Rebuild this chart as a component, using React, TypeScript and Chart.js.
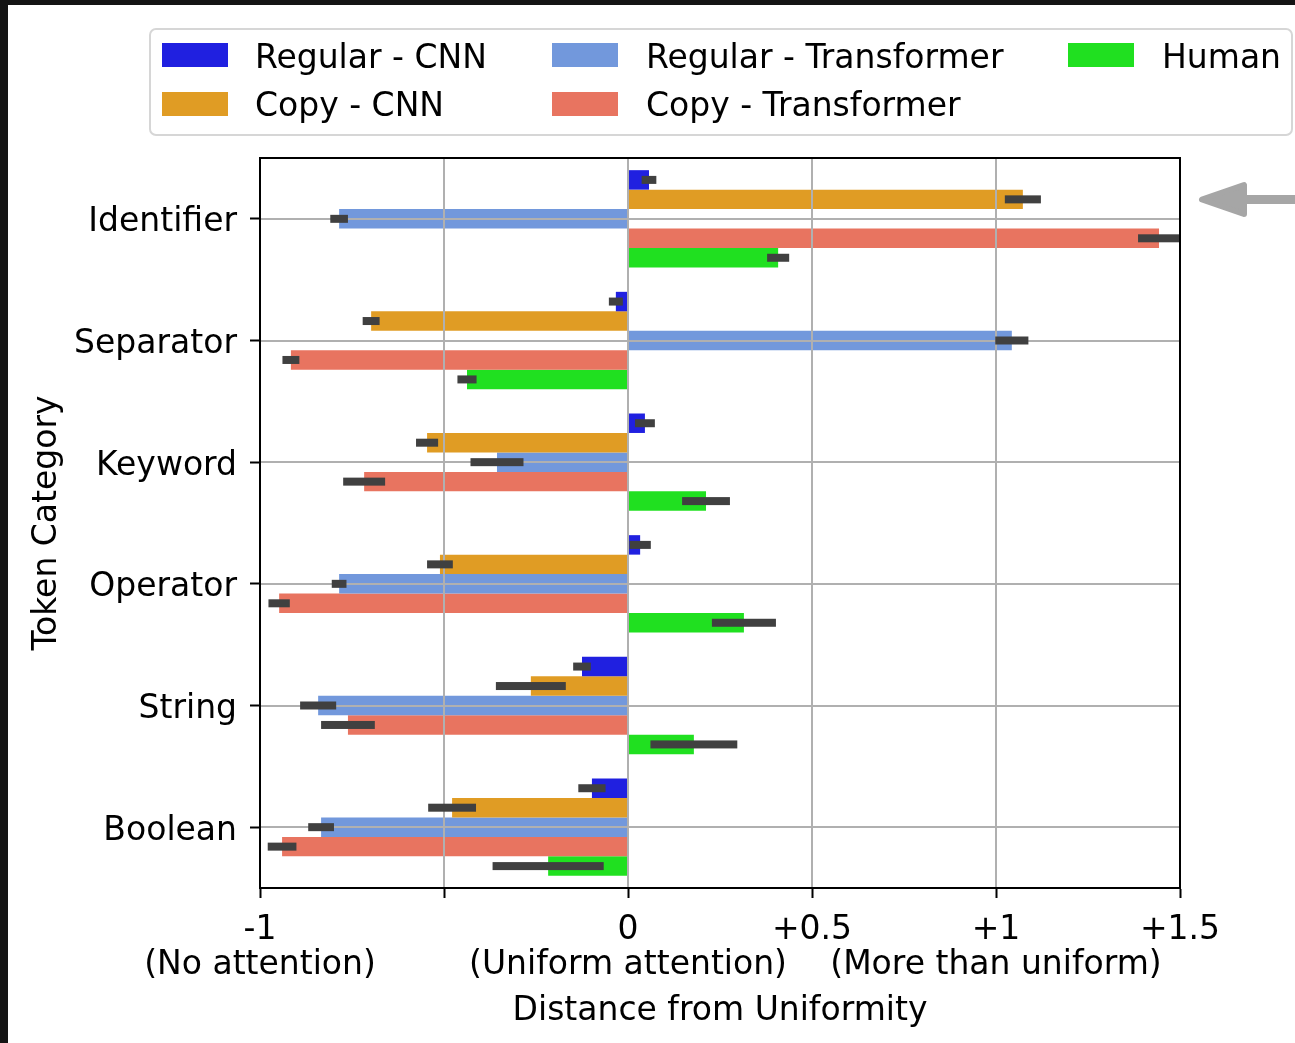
import React, { useEffect, useRef } from "react";
import { Chart, registerables } from "chart.js";

Chart.register(...registerables);

const FONT = "'DejaVu Sans', sans-serif";

const categories = ["Identifier", "Separator", "Keyword", "Operator", "String", "Boolean"];
const seriesNames = ["Regular - CNN", "Copy - CNN", "Regular - Transformer", "Copy - Transformer", "Human"];
const seriesColors = ["#2020e0", "#e09c24", "#7298dc", "#e87460", "#20e020"];

const regularCNN = [0.057, -0.033, 0.046, 0.033, -0.125, -0.098];
const regularCNNErr = [0.02, 0.019, 0.027, 0.029, 0.024, 0.037];
const copyCNN = [1.073, -0.698, -0.546, -0.511, -0.264, -0.478];
const copyCNNErr = [0.049, 0.023, 0.03, 0.035, 0.095, 0.065];
const regularTransformer = [-0.785, 1.043, -0.356, -0.785, -0.842, -0.834];
const regularTransformerErr = [0.024, 0.045, 0.072, 0.02, 0.049, 0.035];
const copyTransformer = [1.443, -0.916, -0.717, -0.948, -0.761, -0.94];
const copyTransformerErr = [0.057, 0.023, 0.057, 0.029, 0.073, 0.039];
const human = [0.408, -0.4375, 0.212, 0.315, 0.179, -0.217];
const humanErr = [0.03, 0.026, 0.065, 0.087, 0.118, 0.151];

const seriesValues = [regularCNN, copyCNN, regularTransformer, copyTransformer, human];
const seriesErrors = [regularCNNErr, copyCNNErr, regularTransformerErr, copyTransformerErr, humanErr];

const xTickValues = [-1, -0.5, 0, 0.5, 1, 1.5];
const xTickLabels = [
  ["-1", "(No attention)"],
  [""],
  ["0", "(Uniform attention)"],
  ["+0.5"],
  ["+1", "(More than uniform)"],
  ["+1.5"],
];

const xTitle = "Distance from Uniformity";
const yTitle = "Token Category";

const overlayPlugin = {
  id: "overlay",
  beforeDraw(chart: any) {
    const { ctx, width, height } = chart;
    ctx.save();
    ctx.fillStyle = "#ffffff";
    ctx.fillRect(0, 0, width, height);
    ctx.restore();
  },
  afterDatasetsDraw(chart: any) {
    const { ctx, chartArea, scales } = chart;
    const xs = scales.x;
    const ys = scales.y;
    ctx.save();
    // grid lines on top of bars
    ctx.strokeStyle = "#b0b0b0";
    ctx.lineWidth = 2;
    xs.ticks.forEach((t: any) => {
      const px = Math.round(xs.getPixelForValue(t.value));
      ctx.beginPath();
      ctx.moveTo(px, chartArea.top);
      ctx.lineTo(px, chartArea.bottom);
      ctx.stroke();
    });
    ys.ticks.forEach((_t: any, i: number) => {
      const py = Math.round(ys.getPixelForTick(i));
      ctx.beginPath();
      ctx.moveTo(chartArea.left, py);
      ctx.lineTo(chartArea.right, py);
      ctx.stroke();
    });
    // error bars
    ctx.beginPath();
    ctx.rect(chartArea.left, chartArea.top, chartArea.right - chartArea.left, chartArea.bottom - chartArea.top);
    ctx.clip();
    ctx.fillStyle = "#404040";
    chart.data.datasets.forEach((ds: any, di: number) => {
      const meta = chart.getDatasetMeta(di);
      meta.data.forEach((el: any, j: number) => {
        const v = ds.data[j];
        const e = ds.errors[j];
        const x1 = xs.getPixelForValue(v - e);
        const x2 = xs.getPixelForValue(v + e);
        ctx.fillRect(x1, el.y - 4, x2 - x1, 8);
      });
    });
    ctx.restore();
  },
  afterDraw(chart: any) {
    const { ctx, chartArea } = chart;
    ctx.save();
    // axes box
    ctx.strokeStyle = "#000000";
    ctx.lineWidth = 2;
    ctx.strokeRect(chartArea.left, chartArea.top, chartArea.right - chartArea.left, chartArea.bottom - chartArea.top);

    // legend
    ctx.fillStyle = "#ffffff";
    ctx.strokeStyle = "#d6d6d6";
    ctx.lineWidth = 2;
    ctx.beginPath();
    (ctx as any).roundRect(150, 29, 1142, 106, 6);
    ctx.fill();
    ctx.stroke();
    const colX = [162, 552, 1068];
    const textX = [255, 646, 1162];
    const rowY = [43, 92];
    const baseY = [68, 116];
    ctx.font = `33px ${FONT}`;
    ctx.textBaseline = "alphabetic";
    ctx.textAlign = "left";
    chart.data.datasets.forEach((ds: any, i: number) => {
      const col = Math.floor(i / 2);
      const row = i % 2;
      ctx.fillStyle = ds.backgroundColor;
      ctx.fillRect(colX[col], rowY[row], 66, 24);
      ctx.fillStyle = "#000000";
      ctx.fillText(ds.label, textX[col], baseY[row]);
    });

    // arrow
    ctx.fillStyle = "#a6a6a6";
    ctx.strokeStyle = "#a6a6a6";
    ctx.fillRect(1235, 195, 70, 9);
    ctx.lineJoin = "round";
    ctx.lineWidth = 6;
    ctx.beginPath();
    ctx.moveTo(1202, 199.5);
    ctx.lineTo(1244, 185);
    ctx.lineTo(1244, 214);
    ctx.closePath();
    ctx.fill();
    ctx.stroke();

    // dark frame strips
    ctx.fillStyle = "#141414";
    ctx.fillRect(0, 0, 8, chart.height);
    ctx.fillRect(0, 0, chart.width, 5);
    ctx.restore();
  },
};

export default function App() {
  const ref = useRef<HTMLCanvasElement | null>(null);
  useEffect(() => {
    if (!ref.current) return;
    const chart = new Chart(ref.current, {
      type: "bar",
      data: {
        labels: categories,
        datasets: seriesNames.map((name, i) => ({
          label: name,
          data: seriesValues[i],
          errors: seriesErrors[i],
          backgroundColor: seriesColors[i],
          borderWidth: 0,
          categoryPercentage: 0.8,
          barPercentage: 1.0,
        })) as any,
      },
      options: {
        indexAxis: "y",
        responsive: false,
        animation: false,
        layout: { padding: { left: 0, top: 158, right: 115, bottom: 0 } },
        plugins: { legend: { display: false }, tooltip: { enabled: false } },
        scales: {
          x: {
            type: "linear",
            position: "bottom",
            min: -1,
            max: 1.5,
            afterFit: (s: any) => {
              s.height = 155;
            },
            afterBuildTicks: (s: any) => {
              s.ticks = xTickValues.map((v) => ({ value: v }));
            },
            ticks: {
              autoSkip: false,
              maxRotation: 0,
              minRotation: 0,
              padding: 15,
              color: "#000000",
              font: { family: FONT, size: 33, lineHeight: 1.06 },
              callback: (v: any) => {
                const idx = xTickValues.indexOf(Number(v));
                return idx >= 0 ? xTickLabels[idx] : "";
              },
            },
            grid: {
              drawOnChartArea: false,
              drawTicks: true,
              tickLength: 10,
              tickColor: "#000000",
              tickWidth: 2,
            },
            border: { display: true, color: "#000000", width: 2 },
            title: {
              display: true,
              text: xTitle,
              color: "#000000",
              font: { family: FONT, size: 33 },
              padding: { top: 0, bottom: 12 },
            },
          },
          y: {
            type: "category",
            afterFit: (s: any) => {
              s.width = 260;
            },
            ticks: {
              autoSkip: false,
              padding: 13,
              labelOffset: 4,
              color: "#000000",
              font: { family: FONT, size: 33 },
            },
            grid: {
              offset: false,
              drawOnChartArea: false,
              drawTicks: true,
              tickLength: 10,
              tickColor: "#000000",
              tickWidth: 2,
            },
            border: { display: true, color: "#000000", width: 2 },
            title: {
              display: true,
              text: yTitle,
              color: "#000000",
              font: { family: FONT, size: 33 },
              padding: { top: 28, bottom: 0 },
            },
          },
        },
      } as any,
      plugins: [overlayPlugin],
    });
    return () => chart.destroy();
  }, []);
  return (
    <div style={{ position: "absolute", left: 0, top: 0, width: 1295, height: 1043 }}>
      <canvas ref={ref} width={1295} height={1043} style={{ display: "block" }} />
    </div>
  );
}
